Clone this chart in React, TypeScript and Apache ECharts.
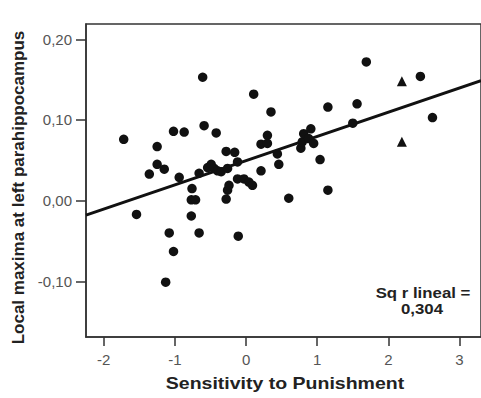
import React, { useEffect, useRef } from "react";
import * as echarts from "echarts";

const sensitivity = [
  -1.72, -1.54, -1.36, -1.25, -1.25, -1.15, -1.13, -1.08, -1.02, -1.02,
  -0.94, -0.87, -0.76, -0.77, -0.71, -0.77, -0.66, -0.66, -0.61, -0.59,
  -0.54, -0.49, -0.45, -0.42, -0.4, -0.35, -0.28, -0.16, -0.28, -0.26,
  -0.24, -0.26, -0.12, -0.12, -0.11, -0.03, 0.04, 0.09, 0.107, 0.21,
  0.21, 0.3, 0.3, 0.35, 0.44, 0.46, 0.6, 0.77, 0.79, 0.81,
  0.88, 0.91, 0.95, 1.04, 1.15, 1.15, 1.5, 1.56, 1.69, 2.45, 2.62,
];
const localMaxima = [
  0.076, -0.017, 0.033, 0.067, 0.045, 0.039, -0.101, -0.04, -0.063, 0.086,
  0.029, 0.085, 0.015, 0.001, 0.001, -0.019, -0.04, 0.034, 0.153, 0.093,
  0.041, 0.045, 0.04, 0.084, 0.037, 0.036, 0.061, 0.06, 0.002, 0.013,
  0.019, 0.04, 0.048, 0.027, -0.044, 0.027, 0.023, 0.019, 0.132, 0.07,
  0.037, 0.081, 0.071, 0.11, 0.058, 0.045, 0.003, 0.065, 0.073, 0.083,
  0.077, 0.089, 0.071, 0.051, 0.116, 0.013, 0.096, 0.12, 0.172, 0.154, 0.103,
];
const triangleX = [2.19, 2.19];
const triangleY = [0.148, 0.073];

const fitX = [-2.25, 3.302];
const fitY = [-0.018, 0.1487];

const xTicks = [-2, -1, 0, 1, 2, 3];
const yTicks = [-0.1, 0, 0.1, 0.2];

const xTitle = "Sensitivity to Punishment";
const yTitle = "Local maxima at left parahippocampus";
const fitLabel = ["Sq r lineal =", "0,304"];

const FONT = "'Liberation Sans', Arial, Helvetica, sans-serif";

export default function App() {
  const ref = useRef<HTMLDivElement>(null);
  useEffect(() => {
    if (!ref.current) return;
    const chart = echarts.init(ref.current, undefined, { renderer: "svg" });
    const pts = sensitivity.map((x, i) => [x, localMaxima[i]]);
    const tri = triangleX.map((x, i) => [x, triangleY[i]]);
    const fit = fitX.map((x, i) => [x, fitY[i]]);
    chart.setOption({
      animation: false,
      backgroundColor: "#ffffff",
      grid: {
        left: 86,
        top: 24,
        width: 397,
        height: 313,
        show: true,
        borderColor: "#333",
        borderWidth: 1.5,
        backgroundColor: "transparent",
      },
      xAxis: {
        type: "value",
        min: -2.25,
        max: 3.302,
        splitLine: { show: false },
        axisLine: { show: true, onZero: false, lineStyle: { color: "#333", width: 1.5 } },
        axisTick: { show: true, customValues: xTicks, length: 9, lineStyle: { color: "#333", width: 1.5 } },
        axisLabel: {
          customValues: xTicks,
          margin: 15,
          color: "#555",
          fontSize: 15,
          fontFamily: FONT,
          formatter: (v: number) => String(v),
        },
      },
      yAxis: {
        type: "value",
        min: -0.169,
        max: 0.219,
        splitLine: { show: false },
        axisLine: { show: true, onZero: false, lineStyle: { color: "#333", width: 1.5 } },
        axisTick: { show: true, customValues: yTicks, length: 10, lineStyle: { color: "#333", width: 1.5 } },
        axisLabel: {
          customValues: yTicks,
          margin: 14,
          color: "#555",
          fontSize: 15,
          fontFamily: FONT,
          formatter: (v: number) => v.toFixed(2).replace(".", ","),
        },
      },
      series: [
        {
          type: "line",
          data: fit,
          showSymbol: false,
          symbol: "none",
          lineStyle: { color: "#111", width: 3 },
          z: 2,
        },
        {
          type: "scatter",
          data: pts,
          symbol: "circle",
          symbolSize: 9.5,
          itemStyle: { color: "#111", opacity: 1 },
          z: 3,
        },
        {
          type: "scatter",
          data: tri,
          symbol: "triangle",
          symbolSize: 10,
          itemStyle: { color: "#111", opacity: 1 },
          z: 3,
        },
      ],
      graphic: [
        {
          type: "text",
          x: 285,
          y: 384,
          scaleX: 1.22,
          style: {
            text: xTitle,
            font: `bold 16px ${FONT}`,
            fill: "#222",
            align: "center",
            verticalAlign: "middle",
          },
        },
        {
          type: "text",
          x: 18,
          y: 187.5,
          rotation: Math.PI / 2,
          style: {
            text: yTitle,
            font: `bold 17px ${FONT}`,
            fill: "#222",
            align: "center",
            verticalAlign: "middle",
          },
        },
        {
          type: "text",
          x: 423,
          y: 293,
          scaleX: 1.2,
          style: {
            text: fitLabel[0],
            font: `bold 14px ${FONT}`,
            fill: "#222",
            align: "center",
            verticalAlign: "middle",
          },
        },
        {
          type: "text",
          x: 422,
          y: 309,
          scaleX: 1.2,
          style: {
            text: fitLabel[1],
            font: `bold 14px ${FONT}`,
            fill: "#222",
            align: "center",
            verticalAlign: "middle",
          },
        },
      ],
    });
    return () => chart.dispose();
  }, []);
  return (
    <div
      ref={ref}
      style={{ position: "absolute", left: 0, top: 0, width: 481, height: 398 }}
    />
  );
}
